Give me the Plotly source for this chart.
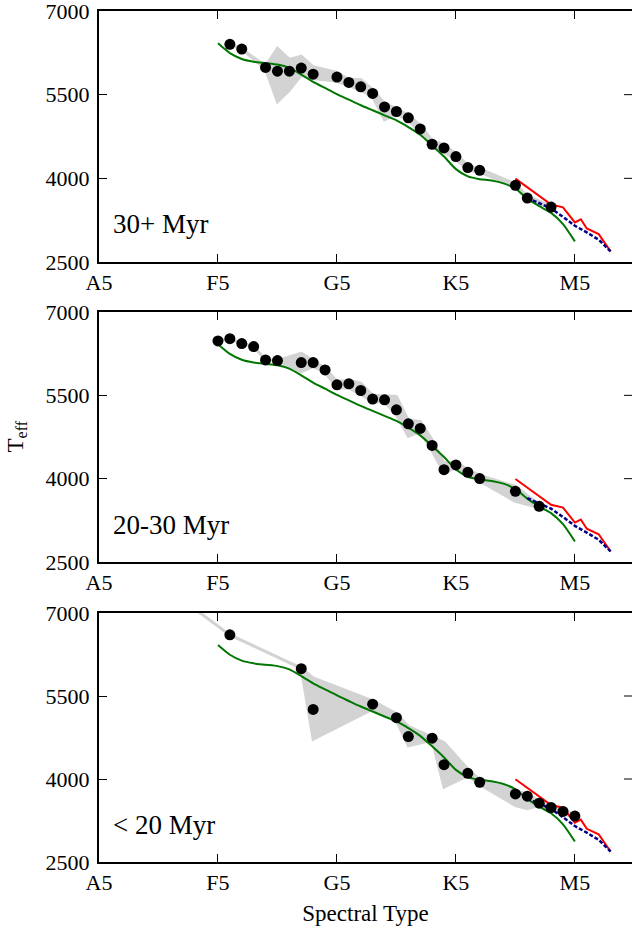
import plotly.graph_objects as go

# ---------------- data ----------------
tick_vals = [5, 15, 25, 35, 45]
tick_text = ["A5", "F5", "G5", "K5", "M5"]
y_ticks = [2500, 4000, 5500, 7000]
panel_labels = ["30+ Myr", "20-30 Myr", "< 20 Myr"]

# panel 1 (30+ Myr)
p1_spt = [16, 17, 19, 20, 21, 22, 23, 25, 26, 27, 28, 29, 30, 31, 32, 33, 34, 35, 36, 37, 40, 41, 43]
p1_teff = [6402, 6318, 5989, 5922, 5922, 5976, 5868, 5815, 5719, 5641, 5522, 5281, 5198, 5084, 4886,
           4611, 4545, 4390, 4193, 4144, 3875, 3647, 3485]
p1_band_spt = [16, 17, 19, 20, 21, 22, 23, 25, 26, 27, 28, 29, 30, 31, 32, 33, 34, 35, 36, 37, 40, 41, 43]
p1_band_lo = [6402, 6318, 5960, 5371, 5581, 5850, 5790, 5740, 5660, 5580, 5460, 5050, 5150, 5040, 4830,
              4560, 4470, 4340, 4150, 4110, 3850, 3610, 3470]
p1_band_hi = [6402, 6318, 6010, 6330, 6132, 6192, 6000, 5900, 5770, 5770, 5590, 5340, 5250, 5130, 4950,
              4680, 4600, 4440, 4230, 4170, 3900, 3680, 3500]

# panel 2 (20-30 Myr)
p2_spt = [15, 16, 17, 18, 19, 20, 22, 23, 24, 25, 26, 27, 28, 29, 30, 31, 32, 33, 34, 35, 36, 37, 40, 42]
p2_teff = [6479, 6520, 6431, 6377, 6138, 6125, 6090, 6090, 5958, 5689, 5707, 5587, 5432, 5420, 5240,
           4988, 4904, 4599, 4162, 4247, 4114, 4001, 3773, 3503]
p2_band_spt = [15, 16, 17, 18, 19, 20, 22, 23, 24, 25, 26, 27, 28, 29, 30, 31, 32, 33, 34, 35, 36, 37, 40, 42]
p2_band_lo = [6479, 6520, 6431, 6377, 6138, 6125, 5928, 6018, 5920, 5630, 5630, 5520, 5380, 5380, 5150,
              4760, 4850, 4500, 4100, 4200, 4070, 3950, 3590, 3480]
p2_band_hi = [6479, 6520, 6431, 6377, 6138, 6125, 6258, 6126, 5990, 5750, 5770, 5719, 5500, 5491, 5479,
              5050, 5030, 4700, 4280, 4300, 4160, 4060, 3860, 3530]

# panel 3 (< 20 Myr)
p3_spt = [16, 22, 23, 28, 30, 31, 33, 34, 36, 37, 40, 41, 42, 43, 44, 45]
p3_teff = [6605, 5994, 5258, 5353, 5109, 4767, 4737, 4258, 4103, 3941, 3731, 3690, 3564, 3485, 3414, 3331]
p3_band_spt = [13, 16, 22, 23, 28, 30, 31, 33, 34, 36, 37, 40, 41, 42, 43, 44, 45]
p3_band_lo = [7080, 6605, 6000, 4719, 5260, 5050, 4599, 4700, 3852, 4060, 3900, 3521, 3462, 3520, 3450, 3380, 3300]
p3_band_hi = [7080, 6605, 6007, 5827, 5410, 5180, 4950, 4760, 4660, 4180, 3990, 3790, 3730, 3600, 3520, 3450, 3360]

# model sequences (same in every panel)
green_spt = [15, 16, 17, 18, 19, 20, 21, 22, 23, 24, 25, 26, 27, 28, 29, 30, 31, 32, 33, 34, 35, 36,
             37, 38, 39, 40, 41, 42, 43, 44, 45]
green_teff = [6420, 6245, 6140, 6090, 6065, 6040, 5980, 5860, 5730, 5620, 5510, 5410, 5310, 5220, 5130,
              5040, 4920, 4780, 4590, 4390, 4165, 4035, 3985, 3960, 3910, 3815, 3640, 3500, 3380, 3180, 2870]
red_spt = [40, 41, 42, 43, 44, 45, 45.5, 46, 47, 48]
red_teff = [3995, 3840, 3680, 3530, 3480, 3210, 3265, 3100, 3000, 2690]
blue_spt = [41, 42, 43, 44, 45, 46, 47, 48]
blue_teff = [3650, 3560, 3460, 3310, 3150, 3030, 2900, 2690]

panels = [
    (p1_spt, p1_teff, p1_band_spt, p1_band_lo, p1_band_hi),
    (p2_spt, p2_teff, p2_band_spt, p2_band_lo, p2_band_hi),
    (p3_spt, p3_teff, p3_band_spt, p3_band_lo, p3_band_hi),
]

# ---------------- figure ----------------
W, H = 632, 930
ml, mt, mb = 99, 11, 68
plot_h = H - mt - mb
tops = [11, 312, 613]
bots = [262, 562, 862]

FONT = "Liberation Serif"
BAND = "rgb(211,211,211)"
TICK_SIZE = 22

fig = go.Figure()
layout = dict(
    width=W, height=H,
    margin=dict(l=ml, r=0, t=mt, b=mb),
    paper_bgcolor="white", plot_bgcolor="white",
    showlegend=False,
    font=dict(family=FONT, size=TICK_SIZE, color="black"),
)
shapes = []
annotations = []

for i, (spt, teff, bspt, blo, bhi) in enumerate(panels):
    n = "" if i == 0 else str(i + 1)
    xa, ya = "x" + n, "y" + n
    # band
    fig.add_trace(go.Scatter(
        x=list(bspt) + list(bspt[::-1]), y=list(bhi) + list(blo[::-1]),
        fill="toself", fillcolor=BAND, mode="lines",
        line=dict(color=BAND, width=3), xaxis=xa, yaxis=ya, hoverinfo="skip"))
    # green model
    fig.add_trace(go.Scatter(x=green_spt, y=green_teff, mode="lines",
                             line=dict(color="#007700", width=2, shape="spline", smoothing=0.6),
                             xaxis=xa, yaxis=ya))
    # red
    fig.add_trace(go.Scatter(x=red_spt, y=red_teff, mode="lines",
                             line=dict(color="#ff0000", width=2), xaxis=xa, yaxis=ya))
    # blue dashed
    fig.add_trace(go.Scatter(x=blue_spt, y=blue_teff, mode="lines",
                             line=dict(color="#000088", width=2.5, dash="4px,2px"),
                             xaxis=xa, yaxis=ya))
    # dots
    fig.add_trace(go.Scatter(x=spt, y=teff, mode="markers",
                             marker=dict(color="black", size=11, line=dict(width=0)),
                             xaxis=xa, yaxis=ya))

    d0 = (H - mb - bots[i]) / plot_h
    d1 = (H - mb - tops[i]) / plot_h
    layout["xaxis" + n] = dict(
        domain=[0, 1], range=[5, 49.8], anchor=ya,
        tickvals=tick_vals, ticktext=tick_text,
        ticks="inside", ticklen=8, tickwidth=1, tickcolor="black",
        showline=True, linewidth=2, linecolor="black", mirror="ticks",
        showgrid=False, zeroline=False, ticklabeloverflow="allow",
        tickfont=dict(family=FONT, size=TICK_SIZE, color="black"),
    )
    layout["yaxis" + n] = dict(
        domain=[d0, d1], range=[2500, 7000], anchor=xa,
        tickvals=y_ticks, ticktext=[str(v) for v in y_ticks],
        ticks="inside", ticklen=8, tickwidth=1, tickcolor="black",
        showline=True, linewidth=2, linecolor="black",
        showgrid=False, zeroline=False, ticklabeloverflow="allow",
        ticklabelstandoff=3,
        tickfont=dict(family=FONT, size=TICK_SIZE, color="black"),
    )
    # right-side ticks (spine is just outside the visible area)
    for yv in y_ticks[1:3]:
        shapes.append(dict(type="line", xref=xa + " domain", yref=ya,
                           x0=1, x1=1 - 8 / (W - ml), y0=yv, y1=yv,
                           line=dict(color="black", width=1)))
    annotations.append(dict(
        text=panel_labels[i], xref=xa + " domain", yref=ya + " domain",
        x=0.022, y=0.15, xanchor="left", yanchor="middle", showarrow=False,
        font=dict(family=FONT, size=27, color="black")))

layout["xaxis3"]["title"] = dict(text="Spectral Type", font=dict(family=FONT, size=23, color="black"),
                                 standoff=10)
annotations.append(dict(
    text="T<sub>eff</sub>", xref="paper", yref="paper", x=-ml / (W - ml), y=0.5,
    xanchor="left", yanchor="middle", textangle=-90, showarrow=False,
    font=dict(family=FONT, size=23, color="black")))
layout["shapes"] = shapes
layout["annotations"] = annotations
fig.update_layout(**layout)

fig.write_html("out.html")
